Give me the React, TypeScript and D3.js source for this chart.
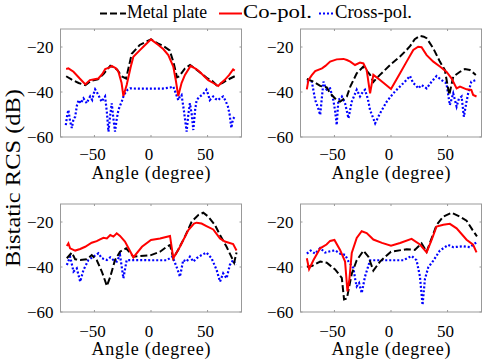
import React from "react";
import * as d3 from "d3";

type Pt = [number, number];

const xTicks = [-50, 0, 50];
const yTicks = [-60, -40, -20];
const seriesNames = ["Metal plate", "Co-pol.", "Cross-pol."];

// Panel 1 (top-left)
const p1Metal: Pt[] = [[-75,-33],[-70,-34.5],[-64,-36],[-58,-37],[-53,-35],[-47,-34.4],[-42,-32],[-36,-28.3],[-30,-30],[-26,-33],[-22,-34],[-17,-23],[-10,-19.1],[-5,-17.8],[0,-16.6],[6,-18.4],[11,-19.6],[16.5,-21.5],[20,-27],[23,-33.5],[25,-33],[30,-29.5],[34.5,-28],[40,-30],[45,-32],[50,-34],[54,-35],[58,-37],[63,-36],[68,-34.5],[74,-33]];
const p1Co: Pt[] = [[-75,-29.8],[-73,-29.5],[-68.5,-31],[-63,-34],[-58,-36.6],[-54,-34.7],[-50,-34.3],[-46.5,-34],[-43,-32],[-40.5,-29.8],[-37,-29.2],[-34.7,-28.4],[-31,-29.5],[-28.8,-31],[-26,-36],[-24.4,-41.8],[-21.5,-36.9],[-18,-29],[-15.6,-24.3],[-10,-21.5],[-6.8,-19.9],[0,-16.6],[6.5,-19.1],[11,-21],[15.3,-23.6],[19.7,-28.7],[22,-35],[24.1,-41.8],[27,-36],[30,-32.4],[35,-28.4],[40,-29.8],[43,-31],[47,-33],[50.6,-34.7],[55,-36],[59.4,-37.3],[62,-36],[65,-34.7],[69,-32.5],[72.6,-30],[74,-30.5]];
const p1Cross: Pt[] = [[-75.3,-54.7],[-74,-50],[-73,-48],[-71.5,-53],[-70,-56],[-68.5,-52],[-67,-51],[-65.5,-46],[-64,-43.6],[-62,-45],[-59.7,-42.8],[-58,-44],[-56.8,-45],[-55,-43],[-53.8,-42],[-52,-43.5],[-50.5,-40.5],[-49.4,-38.8],[-48,-40],[-46.5,-41.3],[-45,-43],[-43.5,-44.3],[-42,-43],[-40.6,-42],[-39,-49],[-37.6,-57.6],[-36,-50],[-34.7,-45],[-33.2,-52],[-31.8,-57.6],[-30.3,-52],[-28.8,-48],[-27.3,-46],[-25.9,-44.3],[-24.4,-42],[-23,-40.6],[-20.7,-39],[-18.5,-38.4],[-10,-38.5],[0,-38.5],[10,-38.5],[17,-38],[19.7,-37.6],[21.5,-40],[24.1,-43.6],[25.5,-42],[27,-41.3],[29,-48],[31.5,-57.6],[33,-50],[34.4,-45],[36,-50],[37.4,-56.9],[39,-48],[40.3,-43.6],[43.2,-42],[46,-41],[49,-39],[50.5,-41],[52,-43.6],[55,-42],[57,-43],[59.4,-43.6],[61.5,-42.5],[63.8,-42],[66,-44],[68,-46.5],[69.5,-50],[71,-56],[72.5,-52],[74,-51]];

// Panel 2 (top-right)
const p2Metal: Pt[] = [[-74.4,-34.2],[-68.5,-35.4],[-62.6,-37.3],[-56.8,-37.9],[-53.8,-40.6],[-48,-43.6],[-45,-44.3],[-39,-42],[-36,-37.6],[-30.3,-31.7],[-24.4,-28.7],[-18.5,-32.4],[-15.6,-35.5],[-10,-32.5],[0,-27.6],[8,-24.2],[13.8,-21.3],[17,-19.5],[21,-16.5],[25.6,-15.1],[29,-15.4],[31.5,-16.1],[37.4,-20.6],[43.2,-26.5],[47.6,-30.2],[51.5,-41.3],[55,-33.2],[61,-31],[65.3,-29.8],[69.7,-30.2],[75,-32.4]];
const p2Co: Pt[] = [[-74.4,-38.8],[-73,-34.7],[-70,-32.5],[-67,-30.7],[-61,-29.5],[-58,-28.4],[-53.8,-26.5],[-48,-25.5],[-42,-25.3],[-39,-25.8],[-36,-26.5],[-31.8,-28],[-27.4,-26.9],[-24.4,-27.3],[-21.5,-30.2],[-18.5,-40.6],[-15.6,-32.4],[-9.7,-34.7],[0,-38.7],[8,-31.7],[13.8,-26.5],[19.7,-21.3],[24,-19.9],[27,-20.1],[31.5,-23.6],[37.4,-26.5],[43.2,-28.7],[49,-31],[53.5,-33.9],[58,-38.4],[61,-37.6],[66.8,-38.8],[71,-39.1],[72.6,-41.3],[75.6,-42]];
const p2Cross: Pt[] = [[-74.4,-35.4],[-70,-35.4],[-67,-43.6],[-64.5,-47],[-62.6,-50.2],[-61,-42],[-59.7,-35.4],[-58,-38],[-56.8,-39],[-53.8,-38.4],[-51,-43.6],[-49.5,-48],[-48,-54.7],[-46.5,-43.6],[-43.5,-42],[-40.6,-45],[-37.6,-51.7],[-34.7,-44.3],[-32,-41],[-30.3,-39],[-27.4,-42],[-25,-40],[-23,-39],[-20.5,-43],[-18.5,-48],[-14,-53.9],[-9.7,-49.5],[-3.8,-44.3],[2,-40.6],[6,-38.5],[10.9,-36.1],[14,-34.5],[16.8,-32.9],[19.7,-36.1],[22,-37],[24,-38.4],[27,-36.9],[31.5,-38.4],[35.9,-35.4],[40.3,-32.9],[44.7,-34.7],[49,-36.1],[52,-45.8],[55,-40.6],[58,-46.5],[60,-43],[62.4,-42],[64.4,-51],[66.5,-45],[68.2,-40.6],[71,-35.4],[75,-34.7]];

// Panel 3 (bottom-left)
const p3Metal: Pt[] = [[-74.4,-36.1],[-70,-33.6],[-67,-36.6],[-62.6,-36.9],[-56.8,-36.6],[-52.4,-34.7],[-48,-36.9],[-43.5,-42],[-39,-48.4],[-36,-44.3],[-31.8,-36.9],[-27.4,-33.2],[-22,-31.7],[-15.6,-35.4],[0,-34.7],[8,-33.2],[13.8,-31],[16.8,-30.2],[19.7,-36.1],[24,-32.4],[30,-26.5],[35.9,-19.9],[41.8,-16.9],[46.2,-15.9],[50.6,-17.6],[56.5,-21.3],[61,-25.8],[66.8,-31],[71,-35.4],[73.5,-38.1],[75.6,-33.6]];
const p3Co: Pt[] = [[-74.4,-30.7],[-73,-29.5],[-71.5,-31.7],[-67,-32.7],[-62.6,-32],[-58.2,-31],[-52.4,-29.2],[-48,-28.5],[-45,-27.7],[-42,-27],[-39,-27.3],[-36,-25.8],[-33.2,-26.5],[-30.3,-25],[-27.4,-26.2],[-23,-28.7],[-15.6,-35.7],[-8,-31],[0,-28],[8,-27.3],[16.8,-26.2],[19.7,-36.1],[25.6,-31],[33,-23.6],[38,-20.7],[40.3,-20.3],[44.7,-20.7],[49,-21.8],[55,-23.3],[61,-27.3],[65.3,-28.7],[72.6,-29.8],[75.6,-32.7]];
const p3Cross: Pt[] = [[-74.4,-39.1],[-71.5,-35.4],[-68.5,-42],[-65.6,-40.6],[-62.6,-46.5],[-59.7,-41.3],[-55.3,-36.9],[-50.9,-35.4],[-46.5,-33.9],[-43.5,-36.1],[-39,-36.9],[-36,-35.7],[-33.2,-36.9],[-30.3,-37.6],[-27.4,-34.7],[-24.4,-45],[-21.5,-36.9],[-17,-36.9],[0,-37],[13.8,-37],[19,-35.4],[22.6,-39.9],[25.6,-44.3],[28.5,-36.9],[31.5,-37.6],[34.4,-35.4],[37.4,-37.6],[40.3,-36.1],[44.7,-34.7],[49,-33.6],[53.5,-36.1],[58,-41.3],[61,-46.5],[63.8,-42.8],[66.8,-45],[69.7,-39.1],[72.6,-36.9],[75,-39.1]];

// Panel 4 (bottom-right)
const p4Metal: Pt[] = [[-74.4,-39.9],[-70,-39.6],[-62.6,-37.6],[-56.8,-38.1],[-49.4,-41.1],[-43.5,-44.8],[-41.5,-54.4],[-39,-54],[-37.6,-50.4],[-34.7,-43],[-30.3,-37],[-24.4,-32.8],[-20,-35.4],[-15.6,-41.6],[-9.7,-37.6],[0,-33.2],[13.8,-32.1],[21,-32.4],[27,-29.5],[31.5,-33.2],[35.9,-27.3],[40.3,-21.3],[46.2,-17.6],[53.5,-15.9],[61,-17.6],[66.8,-19.4],[72,-23.5],[76,-26.4]];
const p4Co: Pt[] = [[-74.4,-36.1],[-72.4,-41],[-68.5,-36.9],[-62.6,-31.7],[-57,-30],[-53.8,-28.4],[-50,-28],[-45,-32.4],[-40.6,-37.6],[-38.5,-50.8],[-36.8,-45.6],[-34.7,-33.8],[-30.3,-27.1],[-25.9,-24.1],[-21.5,-24.9],[-15.6,-27.8],[-8,-29.3],[0,-30.5],[8,-29.3],[18.2,-27.5],[25.6,-30],[31.5,-33.5],[35.9,-27.9],[40.3,-22],[46.2,-21.2],[52,-20.8],[58,-22.8],[66.8,-27.9],[72.6,-30.1],[75.6,-33.5]];
const p4Cross: Pt[] = [[-74.4,-34.1],[-71,-32.7],[-67,-34.1],[-62.6,-31.6],[-58.2,-33.6],[-53.8,-33],[-49.4,-32.6],[-45,-34.1],[-40.6,-34.6],[-37.6,-37.5],[-33.2,-40.5],[-31.5,-46],[-30.3,-48.6],[-28.2,-47.1],[-25.9,-51.6],[-23,-44.3],[-18.5,-37],[0,-37],[10.9,-37],[18.2,-35.1],[22.6,-37],[25.6,-44.3],[27.9,-56.9],[30,-45.3],[33,-40.1],[37.4,-37.2],[43.2,-32.7],[50.6,-30.2],[55,-31.2],[63.8,-30.8],[69.7,-31.2],[75.6,-29]];

const colors = ["#000000", "#ff0000", "#0000ff"];
const dashes = ["7,3", "none", "2,2"];
const FONT = "serif";

const PW = 181;
const PH = 108;
const panels = [
  { x0: 60.5, y0: 29, series: [p1Metal, p1Co, p1Cross], tickDy: 23, labDy: 41.5 },
  { x0: 300.5, y0: 29, series: [p2Metal, p2Co, p2Cross], tickDy: 23, labDy: 41.5 },
  { x0: 60.5, y0: 204, series: [p3Metal, p3Co, p3Cross], tickDy: 24.5, labDy: 43 },
  { x0: 300.5, y0: 204, series: [p4Metal, p4Co, p4Cross], tickDy: 24.5, labDy: 43 },
];

function Panel({ p }: { p: (typeof panels)[number] }) {
  const x = d3.scaleLinear().domain([-80, 80]).range([p.x0, p.x0 + PW]);
  const y = d3.scaleLinear().domain([-60, -12]).range([p.y0 + PH, p.y0]);
  const line = d3
    .line<Pt>()
    .x((d) => x(d[0]))
    .y((d) => y(d[1]));
  const bottom = p.y0 + PH;
  return (
    <g>
      <rect x={p.x0} y={p.y0} width={PW} height={PH} fill="#fff" stroke="#999" strokeWidth={1} />
      {xTicks.map((t) => (
        <g key={"x" + t}>
          <line x1={x(t)} x2={x(t)} y1={bottom} y2={bottom - 2} stroke="#999" />
          <line x1={x(t)} x2={x(t)} y1={p.y0} y2={p.y0 + 2} stroke="#999" />
          <text x={x(t) - 2} y={bottom + p.tickDy} textAnchor="middle" fontSize={17} fontFamily={FONT}>
            {t < 0 ? "\u2212" + Math.abs(t) : String(t)}
          </text>
        </g>
      ))}
      {yTicks.map((t) => (
        <g key={"y" + t}>
          <line x1={p.x0} x2={p.x0 + 2} y1={y(t)} y2={y(t)} stroke="#999" />
          <line x1={p.x0 + PW} x2={p.x0 + PW - 2} y1={y(t)} y2={y(t)} stroke="#999" />
          <text x={p.x0 - 7} y={y(t) + 6} textAnchor="end" fontSize={17} fontFamily={FONT}>
            {"\u2212" + Math.abs(t)}
          </text>
        </g>
      ))}
      {[2, 0, 1].map((i) => (
        <path
          key={i}
          d={line(p.series[i]) || ""}
          fill="none"
          stroke={colors[i]}
          strokeWidth={i === 2 ? 2.2 : 2}
          strokeDasharray={dashes[i]}
        />
      ))}
      <text
        x={p.x0 + PW / 2}
        y={bottom + p.labDy}
        textAnchor="middle"
        fontSize={18}
        fontFamily={FONT}
        textLength={119}
        lengthAdjust="spacing"
      >
        Angle (degree)
      </text>
    </g>
  );
}

const legendItems = [
  { x1: 100, x2: 126, tx: 127, tl: 80 },
  { x1: 219, x2: 242, tx: 243, tl: 69 },
  { x1: 319, x2: 334, tx: 335, tl: 77 },
];

export default function App() {
  return (
    <svg
      width={485}
      height={363}
      style={{ position: "absolute", left: 0, top: 0, background: "#fff" }}
    >
      <rect width={485} height={363} fill="#fff" />
      {legendItems.map((l, i) => (
        <g key={i}>
          <line x1={l.x1} x2={l.x2} y1={13.5} y2={13.5} stroke={colors[i]} strokeWidth={2} strokeDasharray={dashes[i]} />
          <text x={l.tx} y={17.5} fontSize={18} fontFamily={FONT} textLength={l.tl} lengthAdjust="spacingAndGlyphs">
            {seriesNames[i]}
          </text>
        </g>
      ))}
      {panels.map((p, i) => (
        <Panel key={i} p={p} />
      ))}
      <text
        transform="translate(20,178) rotate(-90)"
        textAnchor="middle"
        fontSize={22}
        fontFamily={FONT}
        textLength={178}
        lengthAdjust="spacingAndGlyphs"
      >
        Bistatic RCS (dB)
      </text>
    </svg>
  );
}
